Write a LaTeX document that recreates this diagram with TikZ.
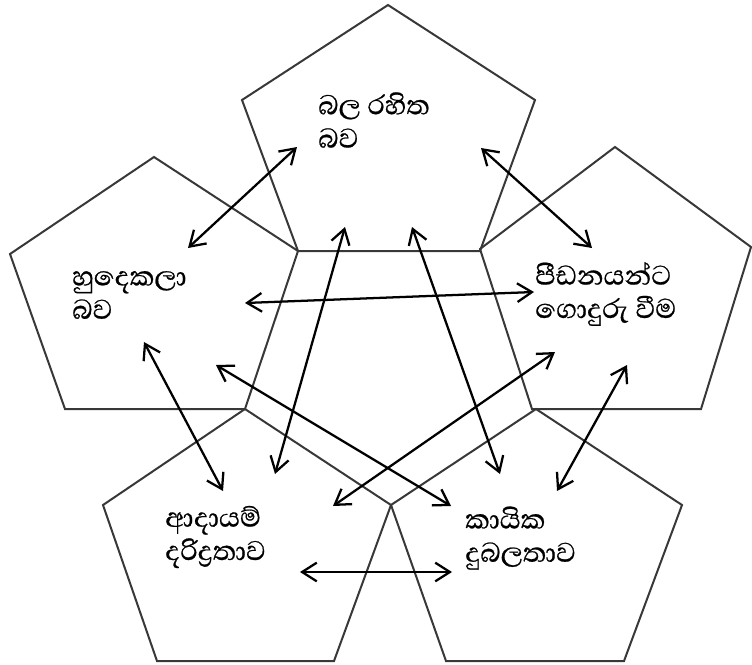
\documentclass[tikz,border=0pt]{standalone}
\usepackage{fontspec}
\newfontfamily\sinhala[Script=Sinhala,FakeBold=0.6]{Abhaya Libre}
\usetikzlibrary{arrows.meta}
\setlength{\lineskiplimit}{-50pt}
\newcommand{\sinlbl}{\sinhala\fontsize{26}{25}\selectfont}
\tikzset{
  penta/.style={draw=black!78, line width=1.5pt, line join=miter},
  link/.style={line width=1.7pt, {Straight Barb[length=11pt,width=14pt,line width=1.7pt]}-{Straight Barb[length=11pt,width=14pt,line width=1.7pt]}},
  label/.style={font=\sinlbl, align=left, anchor=west, inner sep=0pt}
}
\begin{document}
\begin{tikzpicture}[x=0.75pt,y=-0.75pt]
\useasboundingbox (0,0) rectangle (752,664);
% pentagons
\draw[penta] (388,5) -- (535,100) -- (480,251) -- (298,251) -- (242,100) -- cycle;
\draw[penta] (154,157) -- (298,251) -- (245,409) -- (65,409) -- (10,254) -- cycle;
\draw[penta] (615,147) -- (751,247) -- (701,409) -- (532,409) -- (480,249) -- cycle;
\draw[penta] (245,409) -- (391,505) -- (334,661) -- (157,661) -- (103,505) -- cycle;
\draw[penta] (536,409) -- (682,505) -- (624,661) -- (446,661) -- (391,505) -- cycle;
% labels
\node[label] (top) at (318,120) {බල රහිත\\බව};
\node[label] (left) at (72,295) {හුදෙකලා\\බව};
\node[label] (right) at (535,294) {පීඩනයන්ට\\ගොදුරු වීම};
\node[label] (bl) at (165,537) {ආදායම්\\දරිද්‍රතාව};
\node[label] (br) at (465,538) {කායික\\දුබලතාව};
% arrow ends
\coordinate (a1) at (297,147); \coordinate (b1) at (188,248);
\coordinate (a2) at (481,148); \coordinate (b2) at (592,248);
\coordinate (a3) at (245,303); \coordinate (b3) at (534,292);
\coordinate (a4) at (345,227); \coordinate (b4) at (275,474);
\coordinate (a5) at (412,227); \coordinate (b5) at (500,474);
\coordinate (a6) at (144,342); \coordinate (b6) at (223,491);
\coordinate (a7) at (216,365); \coordinate (b7) at (451,506);
\coordinate (a8) at (555,352); \coordinate (b8) at (333,506);
\coordinate (a9) at (627,365); \coordinate (b9) at (557,491);
\coordinate (a10) at (300,572); \coordinate (b10) at (452,572);
\foreach \i in {1,...,10} {\draw[link] (a\i) -- (b\i);}
\end{tikzpicture}
\end{document}
